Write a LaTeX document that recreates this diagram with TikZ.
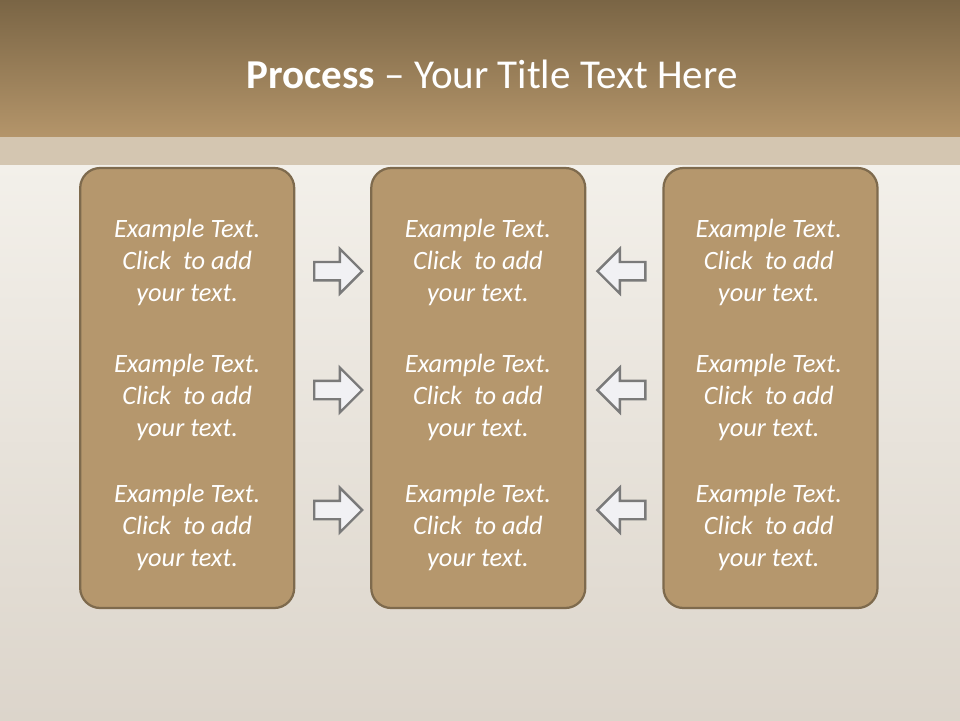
\documentclass[tikz,border=0pt]{standalone}
\usepackage{fontspec}
\setmainfont{Carlito}
\usepackage{xcolor}
\usetikzlibrary{positioning,shapes.arrows}

\definecolor{headtop}{HTML}{7A6545}
\definecolor{headbot}{HTML}{B4956A}
\definecolor{bandtan}{HTML}{D4C6B1}
\definecolor{skytop}{HTML}{F3F0EA}
\definecolor{skybot}{HTML}{DCD5CB}
\definecolor{boxfill}{HTML}{B5976D}
\definecolor{boxline}{HTML}{7E6A4D}
\definecolor{arrowfill}{HTML}{F1F1F4}
\definecolor{arrowline}{HTML}{7A7A7A}

\tikzset{
  column/.style={draw=boxline, line width=1.6pt, fill=boxfill, rounded corners=0.5cm,
    minimum width=5.35cm, minimum height=11cm},
  blurb/.style={text=white, align=center, font=\fontsize{18.8}{22.7}\selectfont\itshape},
  pointer/.style={single arrow, draw=arrowline, line width=1.7pt, fill=arrowfill,
    minimum height=1.2cm, minimum width=1.05cm, inner sep=0.2cm,
    single arrow head extend=0.33cm},
}

\begin{document}
\begin{tikzpicture}
  % backdrop
  \useasboundingbox (0,0) rectangle (24,-18);
  \shade[top color=skytop, bottom color=skybot] (0,-4.1) rectangle (24,-18);
  \shade[top color=headtop, bottom color=headbot] (0,0) rectangle (24,-3.42);
  \fill[bandtan] (0,-3.42) rectangle (24,-4.12);
  \node[text=white, font=\fontsize{29.2}{35}\selectfont] (title) at (12.3,-1.87)
    {\textbf{Process} -- Your Title Text Here};

  % the three columns
  \node[column] (left) at (4.68,-9.7) {};
  \node[column, right=1.87cm of left] (mid) {};
  \node[column, right=1.9cm of mid] (right) {};

  % texts
  \foreach \col/\cx in {l/4.68, m/11.95, r/19.22} {
    \node[blurb] (\col1) at (\cx,-6.57) {Example Text.\\Click \ to add\\your text.};
    \node[blurb] (\col2) at (\cx,-9.94) {Example Text.\\Click \ to add\\your text.};
    \node[blurb] (\col3) at (\cx,-13.19) {Example Text.\\Click \ to add\\your text.};
  }

  % arrows pointing into the middle column
  \foreach \i/\ay in {1/-6.78, 2/-9.75, 3/-12.75} {
    \node[pointer] (in\i) at (8.34,\ay) {};
    \node[pointer, shape border rotate=180] (back\i) at (15.65,\ay) {};
  }
\end{tikzpicture}
\end{document}
